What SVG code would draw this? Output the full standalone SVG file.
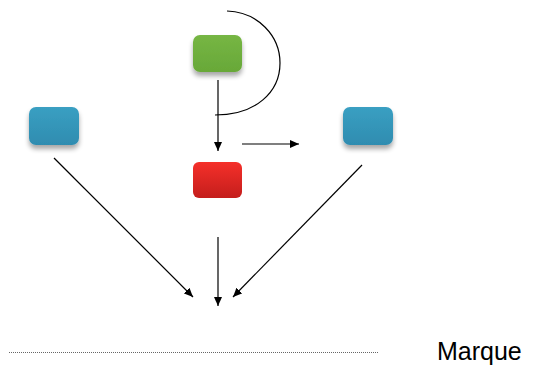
<svg xmlns="http://www.w3.org/2000/svg" width="538" height="367" viewBox="0 0 538 367">
<defs>
<style>
.conn{fill:none;stroke:#000;stroke-width:1.2}
.box{filter:url(#sh)}
.lbl{font-family:"Liberation Sans",Arial,sans-serif;font-size:25px;fill:#000}
</style>
<filter id="sh" x="-30%" y="-30%" width="160%" height="170%">
<feGaussianBlur in="SourceAlpha" stdDeviation="2.5"/>
<feOffset dy="4" result="b"/>
<feComponentTransfer><feFuncA type="linear" slope="0.35"/></feComponentTransfer>
<feMerge><feMergeNode/><feMergeNode in="SourceGraphic"/></feMerge>
</filter>
<linearGradient id="gGreen" x1="0" y1="0" x2="0" y2="1"><stop offset="0" stop-color="#76b644"/><stop offset="1" stop-color="#68a838"/></linearGradient>
<linearGradient id="gBlue" x1="0" y1="0" x2="0" y2="1"><stop offset="0" stop-color="#3a9fc2"/><stop offset="1" stop-color="#2f8cb0"/></linearGradient>
<linearGradient id="gRed" x1="0" y1="0" x2="0" y2="1"><stop offset="0" stop-color="#f5302a"/><stop offset="1" stop-color="#c41e1c"/></linearGradient>
<marker id="ah" markerWidth="9" markerHeight="8" refX="9" refY="4" orient="auto" markerUnits="userSpaceOnUse"><path d="M0,0 L9,4 L0,8 z" fill="#000"/></marker>
</defs>
<rect width="538" height="367" fill="#fff"/>
<g id="green"><rect class="box" x="193" y="35" width="49" height="37" rx="7" fill="url(#gGreen)"/></g>
<g id="blueLeft"><rect class="box" x="29" y="107" width="50" height="38" rx="7" fill="url(#gBlue)"/></g>
<g id="blueRight"><rect class="box" x="343" y="107" width="50" height="38" rx="7" fill="url(#gBlue)"/></g>
<g id="red"><rect x="193" y="162" width="49" height="36" rx="6" fill="url(#gRed)"/></g>
<g id="connectors">
<path class="conn" d="M227,11 C258,12 280,36 280,63 C280,92 256,115 215,115"/>
<line class="conn" x1="218" y1="80" x2="218" y2="151" marker-end="url(#ah)"/>
<line class="conn" x1="242" y1="144" x2="299" y2="144" marker-end="url(#ah)"/>
<line class="conn" x1="54" y1="158" x2="193" y2="297" marker-end="url(#ah)"/>
<line class="conn" x1="362" y1="165" x2="233" y2="297" marker-end="url(#ah)"/>
<line class="conn" x1="218" y1="237" x2="218" y2="306" marker-end="url(#ah)"/>
</g>
<g id="marque">
<line x1="9" y1="352.5" x2="378" y2="352.5" stroke="#666" stroke-width="1" stroke-dasharray="1,1"/>
<text class="lbl" x="437" y="360">Marque</text>
</g>
</svg>
